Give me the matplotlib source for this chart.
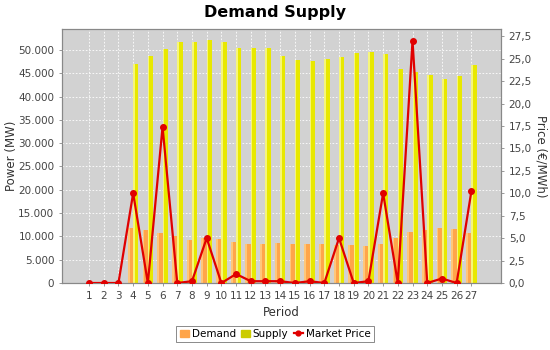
import numpy as np
import matplotlib
matplotlib.use("Agg")
import matplotlib.pyplot as plt
from matplotlib.ticker import FuncFormatter, MultipleLocator
from matplotlib.lines import Line2D
from matplotlib.patches import Patch

# data
periods = list(range(1, 28))
demand = [0, 0, 0, 11870, 11300, 10660, 10080, 9280, 9710, 9360, 8780, 8280, 8420,
          8500, 8280, 8420, 8350, 8100, 8070, 8000, 8350, 9710, 10940, 11300, 11730,
          11510, 10800]
supply = [0, 0, 0, 46900, 48770, 50150, 51660, 51800, 52090, 51660, 50500, 50500,
          50360, 48770, 47900, 47630, 48060, 48420, 49290, 49640, 49140, 45900, 45320,
          44600, 43680, 44330, 46760]
price = [0, 0, 0, 10.0, 0, 17.4, 0, 0.2, 5.0, 0, 1.0, 0.2, 0.2, 0.2, 0, 0.2, 0,
         5.0, 0, 0.2, 10.0, 0, 27.0, 0, 0.5, 0, 10.2]

plt.rcParams['font.family'] = ['DejaVu Sans']
fig = plt.figure(figsize=(5.5, 3.5), dpi=100)
ax = fig.add_axes([0.1127, 0.1914, 0.7983, 0.7257])
ax.set_facecolor('#d2d2d2')

x = np.array(periods)
w = 0.36
# bars with a light stripe to mimic the gradient painter
ax.bar(x - w, demand, width=w, align='edge', color='#ffa54a', zorder=2)
ax.bar(x - w, demand, width=w * 0.35, align='edge', color='#ffc77a', zorder=2)
ax.bar(x, supply, width=w, align='edge', color='#e8e800', zorder=2)
ax.bar(x, supply, width=w * 0.3, align='edge', color='#f6f67a', zorder=2)

ax.set_xlim(1 - 1.84, 27 + 2.02)
ax.set_ylim(0, 54500)
ax.set_xticks(periods)
ax.set_xticklabels([str(p) for p in periods])
ax.yaxis.set_major_locator(MultipleLocator(5000))
ax.yaxis.set_major_formatter(FuncFormatter(lambda v, p: f"{int(v):,}".replace(',', '.')))
ax.grid(True, color='white', linestyle=(0, (2, 2)), linewidth=0.6, zorder=1)
ax.set_axisbelow(True)

ax2 = ax.twinx()
ax2.plot(x, price, color='#e00000', linewidth=1.6, marker='o', markersize=4, zorder=5)
ax2.set_ylim(0, 28.3)
ax2.yaxis.set_major_locator(MultipleLocator(2.5))
ax2.yaxis.set_major_formatter(FuncFormatter(lambda v, p: f"{v:.1f}".replace('.', ',')))

for a in (ax, ax2):
    a.tick_params(labelsize=7.5, labelcolor='#444444', length=2, color='#888888', width=0.6)
    for s in a.spines.values():
        s.set_color('#888888')
        s.set_linewidth(0.8)

ax.set_xlabel('Period', fontsize=8.5, color='#333333', labelpad=4)
ax.set_ylabel('Power (MW)', fontsize=8.5, color='#333333')
ax.yaxis.set_label_coords(-0.1, 0.5)
ax2.set_ylabel('Price (€/MWh)', fontsize=8.5, color='#333333', rotation=270, labelpad=11)

fig.suptitle('Demand Supply', fontsize=11.5, fontweight='bold', y=0.985)

handles = [Patch(color='#ffa54a', label='Demand'),
           Patch(color='#cccc00', label='Supply'),
           Line2D([0], [0], color='#e00000', marker='o', markersize=3.5, linewidth=1.6,
                  label='Market Price')]
leg = fig.legend(handles=handles, loc='lower center', bbox_to_anchor=(0.5, 0.008), ncol=3,
                 fontsize=7.5, frameon=True, fancybox=False, handlelength=0.9,
                 handletextpad=0.25, columnspacing=0.5, borderpad=0.3, handleheight=0.7)
leg.get_frame().set_edgecolor('#555555')
leg.get_frame().set_linewidth(0.6)

fig.savefig('out.png', dpi=100)
